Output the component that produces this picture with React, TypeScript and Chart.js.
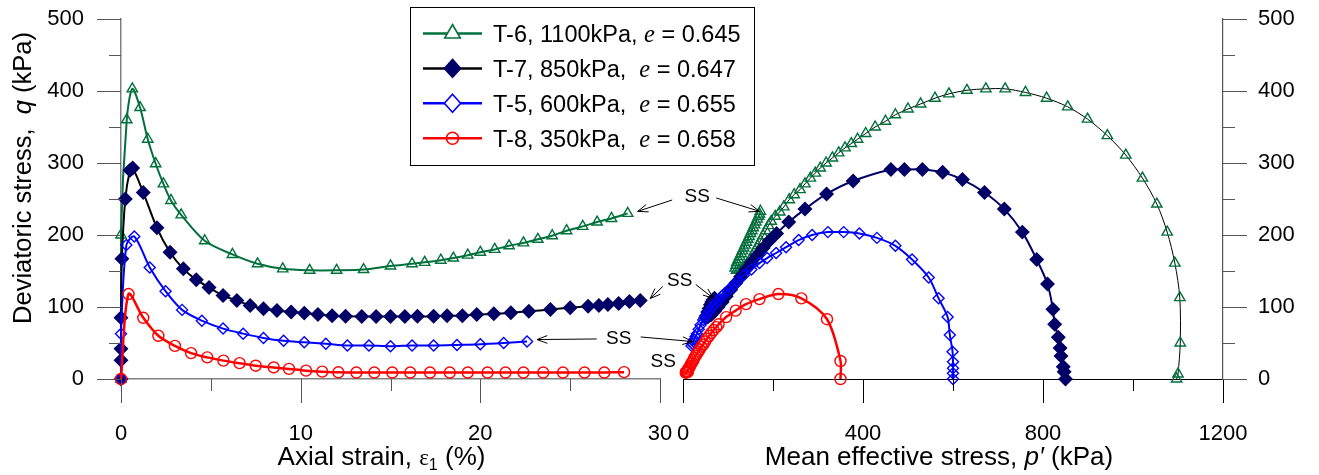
import React, { useEffect, useRef } from "react";
import { Chart, registerables } from "chart.js";

Chart.register(...registerables);

const W = 1319;
const H = 475;

// ---------- Left panel: axial strain (%) vs deviatoric stress q (kPa)
const strainT6 = [0, 0, 0.32, 0.63, 1.06, 1.49, 1.93, 2.36, 2.78, 3.35, 4.66, 6.2, 7.6, 9.0, 10.5, 12.0, 13.5, 15.0, 16.2, 16.9, 17.8, 18.5, 19.3, 20.0, 20.8, 21.6, 22.4, 23.2, 24.0, 24.8, 25.7, 26.5, 27.3, 28.2];
const qT6 = [0, 200, 360, 403, 377, 333, 299, 271, 248, 228, 192, 173, 160, 153, 151, 151, 152, 157, 160, 162, 165, 168, 172, 176, 180, 185, 189, 194, 199, 206, 212, 218, 223, 230];

const strainT7 = [0, 0, 0, 0, 0.05, 0.24, 0.5, 0.65, 1.24, 2.0, 2.73, 3.47, 4.19, 4.9, 5.68, 6.45, 7.19, 7.93, 8.68, 9.47, 10.2, 10.96, 11.75, 12.5, 13.4, 14.2, 15.0, 15.8, 16.5, 17.4, 18.15, 19.0, 19.8, 20.75, 21.7, 22.7, 23.9, 25.0, 26.0, 26.6, 27.1, 27.7, 28.3, 28.9];
const qT7 = [0, 26, 42, 85, 167, 250, 290, 293, 259, 210, 176, 153, 138, 127, 116, 109, 102, 97.5, 95, 93, 91.5, 89.6, 88, 87, 86.8, 86.8, 86.8, 86.8, 87, 87, 88, 88, 89.6, 90.5, 92, 94, 96.5, 99, 101, 102, 103.5, 105, 107.7, 109];

const strainT5 = [0, 0, 0.3, 0.74, 1.6, 2.48, 3.4, 4.5, 5.68, 6.8, 7.93, 9.05, 10.2, 11.4, 12.6, 13.8, 15.0, 16.2, 17.4, 18.7, 20.0, 21.3, 22.6];
const qT5 = [0, 63, 186, 198, 155, 122, 96, 81, 70, 63, 57, 53, 51, 49, 46.5, 46.5, 45.5, 46.5, 46.5, 47.3, 48.3, 50, 52];

const strainT8 = [0, 0.42, 1.24, 2.08, 3.0, 3.9, 4.8, 5.7, 6.6, 7.5, 8.5, 9.35, 10.3, 11.2, 12.1, 13.1, 14.1, 15.1, 16.1, 17.2, 18.3, 19.3, 20.4, 21.4, 22.4, 23.5, 24.6, 25.8, 26.9, 28.0];
const qT8 = [0, 118, 85, 60, 46, 36, 30, 25.5, 22, 18.5, 16, 14, 11.6, 10.2, 9.3, 9, 9, 9, 9, 9, 9, 9, 9, 9, 9, 9, 9, 9, 9, 9.5];

// ---------- Right panel: mean effective stress p' (kPa) vs q (kPa)
const pT6 = [1097, 1100, 1105, 1104, 1093, 1076, 1053, 1021, 984, 943, 899, 855, 808, 761, 716, 673, 631, 591, 560, 528, 500, 472, 450, 427, 406, 388, 374, 360, 346, 332, 318, 305, 294, 283, 271, 260, 247, 236, 224, 215, 205, 196, 190, 184, 178, 172, 166, 160, 154, 148, 142, 136, 130, 124, 119, 116, 118, 120, 123, 126, 129, 132, 135, 138, 141, 144, 147, 150, 153, 156, 159, 162, 165, 168, 170, 172];
const qT6p = [0, 7, 50, 113, 161, 204, 243, 279, 311, 338, 361, 378, 390, 398, 403, 403, 401, 396, 390, 382, 375, 367, 358, 350, 341, 333, 327, 321, 314, 307, 300, 293, 286, 279, 271, 263, 256, 249, 239, 232, 226, 219, 213, 206, 199, 192, 185, 178, 171, 165, 159, 155, 152, 151, 151, 154, 158, 162, 166, 170, 174, 178, 182, 186, 190, 194, 198, 202, 206, 210, 214, 218, 222, 226, 229, 233];

const pT7 = [850, 847, 845, 840, 838, 834, 826, 822, 810, 786, 754, 714, 670, 621, 577, 532, 492, 462, 378, 319, 271, 235, 208, 192, 178, 165, 152, 140, 128, 117, 106, 96, 87, 78, 70, 62, 55, 50, 52, 55, 58, 61, 64, 67, 70];
const qT7p = [0, 10, 17, 32, 43, 58, 76, 97, 132, 166, 204, 236, 259, 277, 287, 291, 291, 291, 275, 257, 236, 218, 202, 192, 182, 172, 162, 152, 142, 133, 124, 115, 107, 100, 94, 89, 86, 85, 88, 93, 98, 103, 107, 110, 112];

const pT5 = [600, 600, 600, 600, 599, 593, 588, 568, 546, 509, 472, 431, 392, 357, 322, 287, 257, 229, 207, 187, 170, 152, 135, 121, 114, 107, 100, 93, 86, 79, 72, 65, 58, 51, 45, 39, 35, 31, 28, 25, 23, 21, 19, 21, 24];
const qT5p = [0, 8, 15, 24, 38, 61, 86, 112, 141, 166, 185, 196, 202, 204, 204, 200, 193, 183, 175, 168, 161, 152, 144, 135, 131, 127, 123, 119, 115, 110, 105, 100, 94, 88, 82, 75, 69, 63, 59, 55, 52, 49, 46, 49, 52];

const pT8 = [350, 350, 320, 263, 212, 170, 140, 117, 96, 79, 74, 68, 63, 58, 53, 49, 45, 41, 37, 34, 31, 28, 25, 23, 20, 18, 16, 14, 12, 11, 9, 8, 7, 6, 7, 9, 11];
const qT8p = [0, 25, 83, 112, 118, 111, 104, 95, 86, 76, 72, 68, 64, 60, 56, 52, 48, 45, 41, 38, 35, 32, 29, 26, 23, 21, 18, 16, 14, 13, 11, 10, 9.5, 9, 9, 9.5, 10];

// ---------- Ticks
const strainMajorTicks = [0, 10, 20, 30];
const strainMinorTicks = [5, 15, 25];
const pMajorTicks = [0, 400, 800, 1200];
const pMinorTicks = [200, 600, 1000];
const qMajorTicks = [0, 100, 200, 300, 400, 500];
const qMinorTicks = [50, 150, 250, 350, 450];

// ---------- Legend
const seriesNames = ["T-6, 1100kPa, ", "T-7, 850kPa,  ", "T-5, 600kPa,  ", "T-8, 350kPa,  "];
const voidRatios = ["0.645", "0.647", "0.655", "0.658"];

const GREEN = "#00703c";
const NAVY = "#000066";
const BLUE = "#0000ff";
const RED = "#ff0000";
const SANS = "'Liberation Sans', Arial, Helvetica, sans-serif";
const SERIF = "'Liberation Serif', 'Times New Roman', serif";
const NOFILL = "rgba(0,0,0,0)";

const pts = (xs: number[], ys: number[]) => xs.map((x, i) => ({ x, y: ys[i] }));

function ds(label: string, xs: number[], ys: number[], line: string, lw: number, marker: string, mColor: string, mFill: string, r: number) {
  return {
    label,
    data: pts(xs, ys),
    borderColor: line,
    borderWidth: lw,
    pointStyle: marker,
    pointRadius: r,
    pointBorderColor: mColor,
    pointBackgroundColor: mFill,
    pointBorderWidth: 1.4,
    tension: 0.3,
    clip: false,
    fill: false,
  } as any;
}

function zeroPad(s: any) {
  s.paddingTop = 0;
  s.paddingBottom = 0;
  s.paddingLeft = 0;
  s.paddingRight = 0;
}

function xAxis(min: number, max: number, ticks: number[], color: string, bw: number) {
  return {
    type: "linear",
    min,
    max,
    afterBuildTicks: (s: any) => {
      s.ticks = ticks.map((v) => ({ value: v }));
    },
    afterFit: (s: any) => {
      s.height = 96;
      zeroPad(s);
    },
    grid: { display: true, drawOnChartArea: false, drawTicks: false, color: NOFILL },
    border: { display: true, color, width: bw },
    ticks: { padding: 42, color: "#000", font: { family: SANS, size: 22 }, maxRotation: 0, autoSkip: false, callback: (v: any) => String(v) },
  } as any;
}

function yAxis(position: string, width: number, color: string, bw: number, pad: number) {
  return {
    type: "linear",
    position,
    min: 0,
    max: 500,
    afterBuildTicks: (s: any) => {
      s.ticks = qMajorTicks.map((v) => ({ value: v }));
    },
    afterFit: (s: any) => {
      s.width = width;
      zeroPad(s);
    },
    grid: { display: true, drawOnChartArea: false, drawTicks: false, color: NOFILL },
    border: { display: true, color, width: bw },
    ticks: { padding: pad, color: "#000", font: { family: SANS, size: 22 }, autoSkip: false, callback: (v: any) => String(v) },
  } as any;
}

type TickSpec = { axis: string; majors: number[]; minors: number[]; dir: "down" | "left" | "right"; color: string };

function tickPlugin(id: string, specs: TickSpec[]) {
  return {
    id,
    afterDraw(chart: any) {
      const ctx = chart.ctx;
      const ca = chart.chartArea;
      ctx.save();
      ctx.lineWidth = 1;
      specs.forEach((s) => {
        const sc = chart.scales[s.axis];
        ctx.strokeStyle = s.color;
        const draw = (v: number, len: number) => {
          const p = Math.round(sc.getPixelForValue(v)) + 0.5;
          ctx.beginPath();
          if (s.dir === "down") {
            ctx.moveTo(p, ca.bottom);
            ctx.lineTo(p, ca.bottom + len);
          } else if (s.dir === "left") {
            ctx.moveTo(ca.left, p);
            ctx.lineTo(ca.left - len, p);
          } else {
            ctx.moveTo(ca.right, p);
            ctx.lineTo(ca.right + len, p);
          }
          ctx.stroke();
        };
        s.majors.forEach((v) => draw(v, 24));
        s.minors.forEach((v) => draw(v, 12));
      });
      ctx.restore();
    },
  };
}

type Run = { t: string; f: string; dy?: number };

function drawRuns(ctx: CanvasRenderingContext2D, runs: Run[], x: number, y: number, align: "left" | "center") {
  let total = 0;
  runs.forEach((r) => {
    ctx.font = r.f;
    total += ctx.measureText(r.t).width;
  });
  let cx = align === "center" ? x - total / 2 : x;
  ctx.textAlign = "left";
  ctx.textBaseline = "alphabetic";
  runs.forEach((r) => {
    ctx.font = r.f;
    ctx.fillText(r.t, cx, y + (r.dy || 0));
    cx += ctx.measureText(r.t).width;
  });
}

const TITLE = 26;
const YTITLE = 25.5;

const leftTitles = {
  id: "leftTitles",
  afterDraw(chart: any) {
    const ctx = chart.ctx;
    const ca = chart.chartArea;
    ctx.save();
    ctx.fillStyle = "#000";
    drawRuns(
      ctx,
      [
        { t: "Axial strain, ", f: `${TITLE}px ${SANS}` },
        { t: "ε", f: `${TITLE - 3}px ${SERIF}` },
        { t: "1", f: `${TITLE - 10}px ${SANS}`, dy: 5 },
        { t: " (%)", f: `${TITLE}px ${SANS}` },
      ],
      (ca.left + ca.right) / 2 - 9,
      456 + 0.358 * TITLE,
      "center"
    );
    ctx.translate(22 + 0.358 * YTITLE, (ca.top + ca.bottom) / 2 - 21);
    ctx.rotate(-Math.PI / 2);
    drawRuns(
      ctx,
      [
        { t: "Deviatoric stress,  ", f: `${YTITLE}px ${SANS}` },
        { t: "q", f: `italic ${YTITLE}px ${SANS}` },
        { t: " (kPa)", f: `${YTITLE}px ${SANS}` },
      ],
      0,
      0,
      "center"
    );
    ctx.restore();
  },
};

function arrow(ctx: CanvasRenderingContext2D, x1: number, y1: number, x2: number, y2: number) {
  const a = Math.atan2(y2 - y1, x2 - x1);
  const L = 11;
  const s = 0.36;
  ctx.beginPath();
  ctx.moveTo(x1, y1);
  ctx.lineTo(x2, y2);
  ctx.moveTo(x2 - L * Math.cos(a - s), y2 - L * Math.sin(a - s));
  ctx.lineTo(x2, y2);
  ctx.lineTo(x2 - L * Math.cos(a + s), y2 - L * Math.sin(a + s));
  ctx.stroke();
}

// SS annotation text anchors (left-panel data units) and arrow tail offsets (px from text centre)
const ssAnchorStrain = [32.07, 31.1, 27.7, 30.18];
const ssAnchorQ = [252.8, 136.8, 55.6, 23.6];
const ssTailLeft = [[-25, 3], [-17, 6], [-22, 0], null];
const ssTailRight = [[19, 1], [16, 4], [22, -2], null];
const ssLeftTarget = [[strainT6[strainT6.length - 1], qT6[qT6.length - 1]], [strainT7[strainT7.length - 1], qT7[qT7.length - 1]], [strainT5[strainT5.length - 1], qT5[qT5.length - 1]], null];
const ssRightTarget = [[pT6[pT6.length - 1], qT6p[qT6p.length - 1]], [pT7[pT7.length - 1], qT7p[qT7p.length - 1]], [pT5[pT5.length - 1], qT5p[qT5p.length - 1]], null];

function overlayPlugin(getLeft: () => any) {
  return {
    id: "overlay",
    afterDraw(chart: any) {
      const ctx: CanvasRenderingContext2D = chart.ctx;
      const ca = chart.chartArea;
      const left = getLeft();
      ctx.save();
      // right x title
      ctx.fillStyle = "#000";
      drawRuns(
        ctx,
        [
          { t: "Mean effective stress, ", f: `${TITLE}px ${SANS}` },
          { t: "p′", f: `italic ${TITLE}px ${SANS}` },
          { t: " (kPa)", f: `${TITLE}px ${SANS}` },
        ],
        (ca.left + ca.right) / 2 - 14,
        456 + 0.358 * TITLE,
        "center"
      );

      // legend
      const bx = 410.5, by = 7.5, bw = 344, bh = 158;
      ctx.fillStyle = "#fff";
      ctx.fillRect(bx, by, bw, bh);
      ctx.strokeStyle = "#000";
      ctx.lineWidth = 1;
      ctx.strokeRect(bx, by, bw, bh);
      const lineCols = [GREEN, "#000", BLUE, RED];
      const markCols = [GREEN, NAVY, BLUE, RED];
      const LF = 23.5;
      for (let i = 0; i < 4; i++) {
        const cy = 33.5 + i * 34.9;
        ctx.strokeStyle = lineCols[i];
        ctx.lineWidth = 2.5;
        ctx.beginPath();
        ctx.moveTo(423, cy);
        ctx.lineTo(482, cy);
        ctx.stroke();
        const mx = 452.5;
        ctx.strokeStyle = markCols[i];
        ctx.lineWidth = 1.6;
        ctx.fillStyle = i === 1 ? NAVY : "#fff";
        ctx.beginPath();
        if (i === 0) {
          const r = 9;
          ctx.moveTo(mx, cy - r);
          ctx.lineTo(mx + r * 0.866, cy + r / 2);
          ctx.lineTo(mx - r * 0.866, cy + r / 2);
          ctx.closePath();
          ctx.fill();
          ctx.stroke();
        } else if (i === 1 || i === 2) {
          const r = 9;
          ctx.moveTo(mx, cy - r);
          ctx.lineTo(mx + r * 0.9, cy);
          ctx.lineTo(mx, cy + r);
          ctx.lineTo(mx - r * 0.9, cy);
          ctx.closePath();
          ctx.fill();
          ctx.stroke();
        } else {
          ctx.arc(mx, cy, 6, 0, Math.PI * 2);
          ctx.stroke();
        }
        ctx.fillStyle = "#000";
        drawRuns(
          ctx,
          [
            { t: seriesNames[i], f: `${LF}px ${SANS}` },
            { t: "e", f: `italic ${LF + 1}px ${SERIF}` },
            { t: " = " + voidRatios[i], f: `${LF}px ${SANS}` },
          ],
          493,
          cy + 0.358 * LF,
          "left"
        );
      }

      // SS annotations
      if (left) {
        const lx = left.scales.x;
        const ly = left.scales.y;
        const rx = chart.scales.x;
        const ry = chart.scales.y;
        ctx.strokeStyle = "#000";
        ctx.lineWidth = 1;
        ctx.fillStyle = "#000";
        ctx.font = `19px ${SANS}`;
        for (let i = 0; i < ssAnchorStrain.length; i++) {
          const tx = lx.getPixelForValue(ssAnchorStrain[i]);
          const ty = ly.getPixelForValue(ssAnchorQ[i]);
          ctx.textAlign = "center";
          ctx.textBaseline = "middle";
          ctx.fillText("SS", tx, ty);
          const tl = ssTailLeft[i];
          const lt = ssLeftTarget[i];
          if (tl && lt) {
            arrow(ctx, tx + tl[0], ty + tl[1], lx.getPixelForValue(lt[0]) + 10, ly.getPixelForValue(lt[1]) - 2);
          }
          const tr = ssTailRight[i];
          const rt = ssRightTarget[i];
          if (tr && rt) {
            arrow(ctx, tx + tr[0], ty + tr[1], rx.getPixelForValue(rt[0]) - 1, ry.getPixelForValue(rt[1]));
          }
        }
      }
      ctx.restore();
    },
  };
}

export default function App() {
  const leftRef = useRef<HTMLCanvasElement>(null);
  const rightRef = useRef<HTMLCanvasElement>(null);

  useEffect(() => {
    const leftChart = new Chart(leftRef.current as HTMLCanvasElement, {
      type: "line",
      data: {
        datasets: [
          ds("T-8", strainT8, qT8, RED, 2.5, "circle", RED, NOFILL, 5.5),
          ds("T-5", strainT5, qT5, BLUE, 2, "rectRot", BLUE, NOFILL, 5.5),
          ds("T-7", strainT7, qT7, "#000", 2, "rectRot", NAVY, NAVY, 6.5),
          ds("T-6", strainT6, qT6, GREEN, 2, "triangle", GREEN, NOFILL, 6),
        ],
      },
      options: {
        animation: false,
        responsive: false,
        maintainAspectRatio: false,
        events: [],
        layout: { autoPadding: false, padding: { left: 0, top: 19, right: W - 660, bottom: 0 } },
        plugins: { legend: { display: false }, tooltip: { enabled: false } },
        scales: {
          x: xAxis(0, 30, strainMajorTicks, "#808080", 1.5),
          y: yAxis("left", 121, "#808080", 1.5, 37),
        },
      } as any,
      plugins: [
        tickPlugin("ticksL", [
          { axis: "x", majors: strainMajorTicks, minors: strainMinorTicks, dir: "down", color: "#555" },
          { axis: "y", majors: qMajorTicks, minors: qMinorTicks, dir: "left", color: "#555" },
        ]),
        leftTitles,
      ],
    });

    const rightChart = new Chart(rightRef.current as HTMLCanvasElement, {
      type: "line",
      data: {
        datasets: [
          ds("T-8", pT8, qT8p, RED, 2.5, "circle", RED, NOFILL, 5.5),
          ds("T-5", pT5, qT5p, BLUE, 2, "rectRot", BLUE, NOFILL, 5.5),
          ds("T-7", pT7, qT7p, NAVY, 2, "rectRot", NAVY, NAVY, 6.5),
          ds("T-6", pT6, qT6p, "#000", 1, "triangle", GREEN, NOFILL, 6),
        ],
      },
      options: {
        animation: false,
        responsive: false,
        maintainAspectRatio: false,
        events: [],
        layout: { autoPadding: false, padding: { left: 683, top: 19, right: 0, bottom: 0 } },
        plugins: { legend: { display: false }, tooltip: { enabled: false } },
        scales: {
          x: xAxis(0, 1200, pMajorTicks, "#000", 1),
          y: yAxis("right", 96, "#555", 1.2, 35),
        },
      } as any,
      plugins: [
        tickPlugin("ticksR", [
          { axis: "x", majors: pMajorTicks, minors: pMinorTicks, dir: "down", color: "#000" },
          { axis: "y", majors: qMajorTicks, minors: qMinorTicks, dir: "right", color: "#555" },
        ]),
        overlayPlugin(() => leftChart),
      ],
    });

    return () => {
      rightChart.destroy();
      leftChart.destroy();
    };
  }, []);

  return (
    <div style={{ position: "fixed", left: 0, top: 0, width: W, height: H, background: "#fff" }}>
      <canvas ref={leftRef} width={W} height={H} style={{ position: "absolute", left: 0, top: 0 }} />
      <canvas ref={rightRef} width={W} height={H} style={{ position: "absolute", left: 0, top: 0 }} />
    </div>
  );
}
